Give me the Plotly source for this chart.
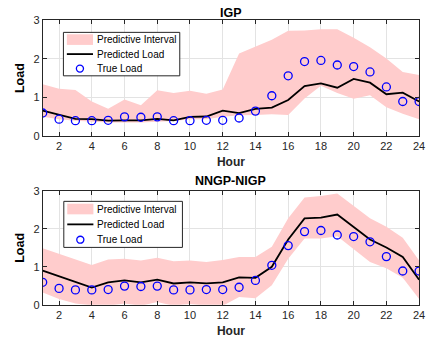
import plotly.graph_objects as go

hours = list(range(1, 25))
true_load = [0.59, 0.43, 0.39, 0.39, 0.40, 0.49, 0.48, 0.49, 0.39, 0.39, 0.40, 0.40,
             0.46, 0.64, 1.04, 1.56, 1.93, 1.96, 1.84, 1.80, 1.66, 1.27, 0.89, 0.89]

igp_pred = [0.65, 0.55, 0.44, 0.43, 0.39, 0.40, 0.40, 0.44, 0.40, 0.49, 0.50, 0.65,
            0.59, 0.70, 0.73, 0.93, 1.29, 1.36, 1.25, 1.48, 1.38, 1.08, 1.12, 0.89]
igp_upper = [1.34, 1.22, 1.19, 0.89, 0.70, 0.94, 0.79, 1.18, 1.11, 1.17, 1.09, 1.20,
             2.14, 2.31, 2.50, 2.73, 2.74, 2.77, 2.77, 2.55, 2.30, 2.01, 1.66, 1.58]
igp_lower = [0.49, 0.43, 0.39, 0.36, 0.34, 0.34, 0.34, 0.36, 0.38, 0.43, 0.43, 0.49,
             0.53, 0.54, 0.56, 0.54, 0.97, 1.30, 1.11, 0.96, 1.05, 0.74, 0.57, 0.43]

nn_pred = [0.90, 0.75, 0.59, 0.45, 0.59, 0.64, 0.59, 0.66, 0.56, 0.59, 0.56, 0.59,
           0.72, 0.71, 1.00, 1.72, 2.28, 2.30, 2.38, 2.06, 1.72, 1.51, 1.26, 0.66]
nn_upper = [1.49, 1.34, 1.19, 1.05, 1.19, 1.21, 1.17, 1.24, 1.15, 1.17, 1.13, 1.18,
            1.26, 1.26, 1.53, 2.28, 2.83, 2.87, 2.94, 2.62, 2.28, 2.06, 1.77, 1.17]
nn_lower = [0.32, 0.15, 0.03, -0.02, -0.03, 0.03, -0.03, 0.07, -0.03, 0.02, -0.03, -0.03,
            0.20, 0.17, 0.51, 1.21, 1.75, 1.75, 1.81, 1.47, 1.13, 0.96, 0.71, 0.15]

titles = ["IGP", "NNGP-NIGP"]
legend_labels = ["Predictive Interval", "Predicted Load", "True Load"]
x_ticks = list(range(2, 25, 2))
y_ticks = [0, 1, 2, 3]

FILL = "rgb(255,204,204)"
FONT = "Liberation Sans, Arial, sans-serif"
AX = "#262626"
W, H = 433, 349

def px(x):
    return x / W

def py(y):
    return 1 - y / H

fig = go.Figure()

panels = [(igp_pred, igp_upper, igp_lower), (nn_pred, nn_upper, nn_lower)]
for i, (pred, up, lo) in enumerate(panels):
    xa = "x" if i == 0 else "x2"
    ya = "y" if i == 0 else "y2"
    fig.add_trace(go.Scatter(x=hours, y=lo, mode="lines", line=dict(width=0, color=FILL),
                             showlegend=False, hoverinfo="skip", xaxis=xa, yaxis=ya))
    fig.add_trace(go.Scatter(x=hours, y=up, mode="lines", line=dict(width=0, color=FILL),
                             fill="tonexty", fillcolor=FILL, name=legend_labels[0],
                             showlegend=False, xaxis=xa, yaxis=ya))
    fig.add_trace(go.Scatter(x=hours, y=pred, mode="lines", line=dict(width=1.8, color="black"),
                             name=legend_labels[1], showlegend=False, xaxis=xa, yaxis=ya))
    fig.add_trace(go.Scatter(x=hours, y=true_load, mode="markers",
                             marker=dict(symbol="circle-open", size=8, color="blue",
                                         line=dict(width=1.3, color="blue")),
                             name=legend_labels[2], showlegend=False, xaxis=xa, yaxis=ya))

# panel boxes in pixels: (left, top, right, bottom)
boxes = [(43.3, 15.0, 425.0, 134.3), (43.3, 191.7, 425.0, 309.3)]
title_y = [7.0, 181.0]
# legend boxes in pixels: (left, top, right, bottom)
leg_boxes = [(64.3, 27.3, 182.3, 72.3), (64.7, 202.3, 185.0, 250.0)]

def xaxis(anchor, b):
    return dict(domain=[px(b[0]), px(b[2])], anchor=anchor, range=[1, 24], tickvals=x_ticks,
                ticks="inside", ticklen=4, tickcolor=AX, showline=True, linecolor=AX,
                linewidth=1, mirror="allticks", showgrid=True, gridcolor="#e3e3e3",
                zeroline=False, tickfont=dict(size=11, color=AX, family=FONT),
                title=dict(text="<b>Hour</b>", font=dict(size=12, color=AX, family=FONT),
                           standoff=6))

def yaxis(anchor, b):
    return dict(domain=[py(b[3]), py(b[1])], anchor=anchor, range=[0, 3], tickvals=y_ticks,
                ticks="inside", ticklen=4, tickcolor=AX, showline=True, linecolor=AX,
                linewidth=1, mirror="allticks", showgrid=True, gridcolor="#e3e3e3",
                zeroline=False, tickfont=dict(size=11, color=AX, family=FONT),
                title=dict(text="<b>Load</b>", font=dict(size=12.5, color="black", family=FONT),
                           standoff=5))

shapes = []
annotations = []
for i in range(2):
    b = boxes[i]
    annotations.append(dict(text="<b>%s</b>" % titles[i], x=px((b[0] + b[2]) / 2),
                            y=py(title_y[i]), xref="paper", yref="paper",
                            xanchor="center", yanchor="middle", showarrow=False,
                            font=dict(size=12.5, color="black", family=FONT)))
    l, t, r, bt = leg_boxes[i]
    shapes.append(dict(type="rect", xref="paper", yref="paper", x0=px(l), x1=px(r),
                       y0=py(bt), y1=py(t), fillcolor="white",
                       line=dict(color=AX, width=1), layer="above"))
    row_h = (bt - t) / 3
    sx0, sx1 = l + 3.5, l + 30
    tx = l + 32
    for k, lab in enumerate(legend_labels):
        cy = t + row_h * (k + 0.5)
        if k == 0:
            shapes.append(dict(type="rect", xref="paper", yref="paper", x0=px(sx0), x1=px(sx1),
                               y0=py(cy + 5.5), y1=py(cy - 5.5), fillcolor=FILL,
                               line=dict(width=0), layer="above"))
        elif k == 1:
            shapes.append(dict(type="line", xref="paper", yref="paper", x0=px(sx0), x1=px(sx1),
                               y0=py(cy), y1=py(cy), line=dict(color="black", width=1.8),
                               layer="above"))
        else:
            cx = (sx0 + sx1) / 2
            rr = 3.6
            shapes.append(dict(type="circle", xref="paper", yref="paper", x0=px(cx - rr),
                               x1=px(cx + rr), y0=py(cy + rr), y1=py(cy - rr),
                               line=dict(color="blue", width=1.3), layer="above"))
        annotations.append(dict(text=lab, x=px(tx), y=py(cy), xref="paper", yref="paper",
                                xanchor="left", yanchor="middle", showarrow=False,
                                font=dict(size=10, color="black", family=FONT)))

fig.update_layout(
    width=W, height=H,
    margin=dict(l=0, r=0, t=0, b=0),
    paper_bgcolor="white", plot_bgcolor="white",
    font=dict(family=FONT, color=AX),
    showlegend=False,
    xaxis=xaxis("y", boxes[0]), yaxis=yaxis("x", boxes[0]),
    xaxis2=xaxis("y2", boxes[1]), yaxis2=yaxis("x2", boxes[1]),
    shapes=shapes,
    annotations=annotations,
)

fig.write_html("out.html", config={"displayModeBar": False},
               post_script="document.body.style.margin='0';document.body.style.overflow='hidden';")
